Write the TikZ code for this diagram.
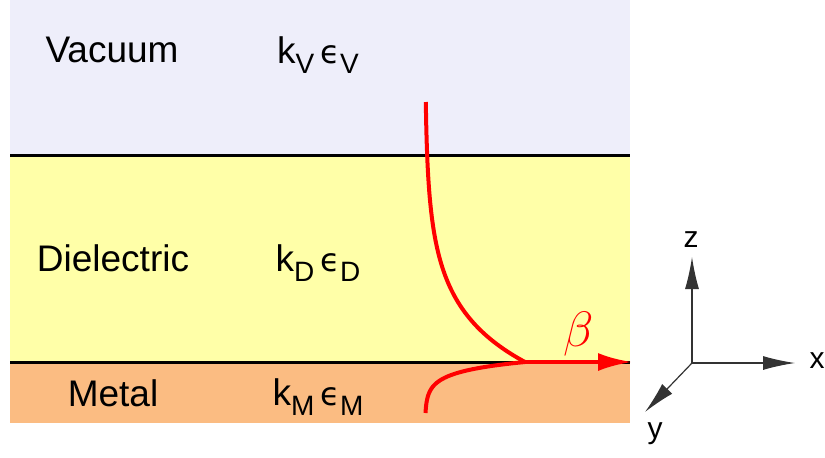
\documentclass[tikz,border=0pt]{standalone}
\usepackage{fontspec}
\setmainfont{Liberation Sans}
\newfontfamily\greekfont{DejaVu Sans}
\usetikzlibrary{arrows.meta,positioning}

\definecolor{vacfill}{RGB}{238,238,250}
\definecolor{dielfill}{RGB}{255,255,168}
\definecolor{metalfill}{RGB}{251,188,130}

\newcommand{\lsub}[1]{\raisebox{-0.5ex}{\fontsize{14}{14}\selectfont #1}}
\newcommand{\kep}[1]{k\lsub{#1}\,{\greekfont\fontsize{16}{16}\selectfont ϵ}\lsub{#1}}

\begin{document}
\begin{tikzpicture}[x=0.5pt, y=-0.5pt,
    every node/.style={font=\fontsize{18.5}{20}\selectfont},
    layerline/.style={line width=1.5pt, black},
    field/.style={red, line width=2pt},
    axis/.style={-{Latex[length=16pt, width=7pt]}, line width=0.6pt, black!80},
    axlabel/.style={font=\fontsize{15}{17}\selectfont},
]
\useasboundingbox (0,0) rectangle (825,457);

% -------- layers --------
\fill[vacfill]   (10,0)   rectangle (630,155);
\fill[dielfill]  (10,155) rectangle (630,362);
\fill[metalfill] (10,362) rectangle (630,423);
\draw[layerline] (10,155) -- (630,155);
\draw[layerline] (10,362) -- (630,362);

\node (vac)   at (112,50)  {Vacuum};
\node (kv)    at (318,55)  {\kep{V}};
\node (diel)  at (113,258) {Dielectric};
\node (kd)    at (318,263) {\kep{D}};
\node (metal) at (113,393) {Metal};
\node (km)    at (318,397) {\kep{M}};

% -------- field profile --------
\coordinate (peak) at (525,362);
\coordinate (tip)  at (632,362);
\draw[field] plot[domain=102:362, samples=80, smooth]
  ({425+100*exp(-(362-\x)/54)}, {\x});
\draw[field] plot[domain=362:413, samples=40, smooth]
  ({425+100*exp(-(\x-362)/9.7)}, {\x});
\draw[field, -{Latex[length=17pt, width=9pt]}] (peak) -- (tip);
\node[red, font=\fontsize{24}{26}\selectfont] (beta) at (579,334) {$\beta$};

% -------- axes --------
\coordinate (O)  at (692,363);
\coordinate (zt) at (692,257);
\coordinate (xt) at (795,363);
\coordinate (yt) at (645,412);
\draw[axis] (O) -- (zt);
\draw[axis] (O) -- (xt);
\draw[axis] (O) -- (yt);
\node[axlabel] (zl) at (691,240) {z};
\node[axlabel] (xl) at (817,361) {x};
\node[axlabel] (yl) at (655,434) {y};
\end{tikzpicture}
\end{document}
